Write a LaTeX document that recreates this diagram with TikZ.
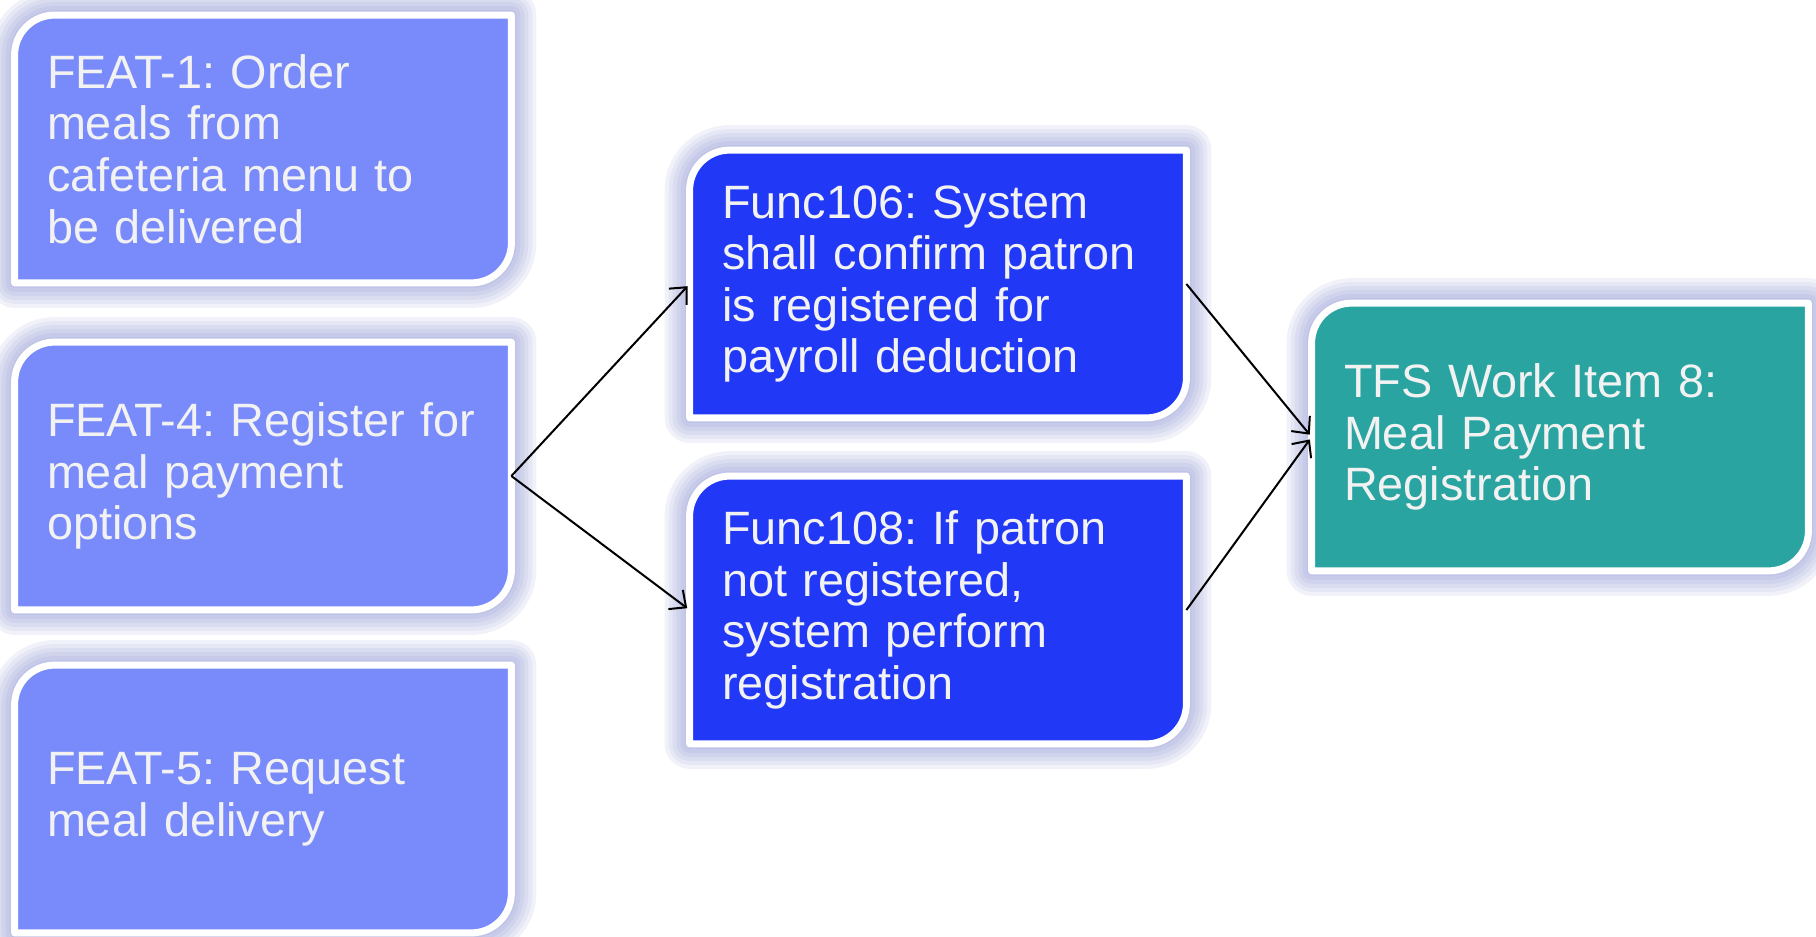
\documentclass[tikz,border=0pt]{standalone}
\usepackage{fontspec}
\setmainfont{Liberation Sans}
\usetikzlibrary{arrows.meta,backgrounds,positioning}
\usepackage{xcolor}

\definecolor{featblue}{RGB}{121,139,250}
\definecolor{funcblue}{RGB}{33,56,247}
\definecolor{tfsteal}{RGB}{41,164,160}
\definecolor{glowcol}{RGB}{120,128,200}
\definecolor{textgray}{RGB}{242,242,242}

\tikzset{
  item/.style={rectangle, minimum width=248pt, minimum height=133.5pt,
    text width=216pt, inner xsep=16pt, align=left, text=textgray,
    font=\fontsize{23.4pt}{25.8pt}\selectfont\frenchspacing},
  link/.style={->, line width=1pt, black, shorten >=1.5pt}
}
\newcommand{\itemoutline}[1]{(#1.south west) -- ([yshift=-20pt]#1.north west)
  arc[start angle=180,end angle=90,radius=20pt] -- (#1.north east)
  -- ([yshift=20pt]#1.south east) arc[start angle=0,end angle=-90,radius=20pt] -- cycle}

\begin{document}
\begin{tikzpicture}[x=0.5pt,y=-0.5pt,>={Straight Barb[length=6.5pt,width=12pt]}]
\useasboundingbox (0,0) rectangle (1816,937);
\node[item] (feat1) at (263,149) {FEAT-1: Order\\meals from\\cafeteria menu to\\be delivered};
\node[item] (feat4) at (263,476) {FEAT-4: Register for\\meal payment\\options};
\node[item] (feat5) at (263,799) {FEAT-5: Request\\meal delivery};
\node[item] (func106) at (938,284) {Func106: System\\shall confirm patron\\is registered for\\payroll deduction};
\node[item] (func108) at (938,610) {Func108: If patron\\not registered,\\system perform\\registration};
\node[item] (tfs) at (1560,437) {TFS Work Item 8:\\Meal Payment\\Registration};
\begin{scope}[on background layer]
\foreach \n/\c in {feat1/featblue,feat4/featblue,feat5/featblue,func106/funcblue,func108/funcblue,tfs/tfsteal}{
  \foreach \w in {25,21,17,13,9,5}
    \draw[glowcol, opacity=0.1, line width=\w pt, line join=round] \itemoutline{\n};
  \draw[white, fill=\c, line width=3.5pt, line join=round] \itemoutline{\n};
}
\end{scope}
\draw[link] (feat4.east) -- (func106.west);
\draw[link] (feat4.east) -- (func108.west);
\draw[link] (func106.east) -- (tfs.west);
\draw[link] (func108.east) -- (tfs.west);
\end{tikzpicture}
\end{document}
